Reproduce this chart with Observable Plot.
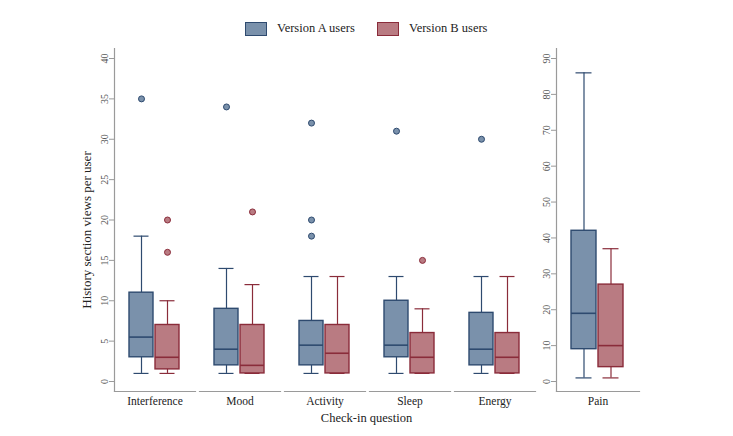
<!DOCTYPE html>
<html><head><meta charset="utf-8">
<script src="https://cdn.jsdelivr.net/npm/d3@7"></script>
<script src="https://cdn.jsdelivr.net/npm/@observablehq/plot@0.6"></script>
<style>
body{margin:0;background:#fff;}
#wrap{position:relative;width:733px;height:436px;font-family:"Liberation Serif","Times New Roman",serif;background:#fff;overflow:hidden}
#wrap svg{position:absolute;top:0;}
.leg{position:absolute;top:21px;display:flex;align-items:center;font-size:12.5px;color:#222}
.sw{width:20px;height:12px;margin-right:10px;}
#xtitle{position:absolute;top:411px;left:0;width:733px;text-align:center;font-size:12.5px;color:#222;}
</style></head><body><div id="wrap"></div>
<script>
// ---- data ----
const categories = ["Interference", "Mood", "Activity", "Sleep", "Energy"];
const versions = ["Version A users", "Version B users"];
const yTicksLeft = [0, 5, 10, 15, 20, 25, 30, 35, 40];
const yTicksRight = [0, 10, 20, 30, 40, 50, 60, 70, 80, 90];
const yTitle = ["History section views per user"];

const lowA  = [1, 1, 1, 1, 1];
const q1A   = [3, 2, 2, 3, 2];
const medA  = [5.5, 4, 4.5, 4.5, 4];
const q3A   = [11, 9, 7.5, 10, 8.5];
const highA = [18, 14, 13, 13, 13];
const outA  = [[35], [34], [18, 20, 32], [31], [30]];

const lowB  = [1, 1, 1, 1, 1];
const q1B   = [1.5, 1, 1, 1, 1];
const medB  = [3, 2, 3.5, 3, 3];
const q3B   = [7, 7, 7, 6, 6];
const highB = [10, 12, 13, 9, 13];
const outB  = [[16, 20], [21], [], [15], []];

const painCategory = ["Pain"];
const painA = {low: 1, q1: 9, med: 19, q3: 42, high: 86};
const painB = {low: 1, q1: 4, med: 10, q3: 27, high: 37};

// ---- styles ----
const fills = {"Version A users": "#7a91ab", "Version B users": "#b97b82"};
const strokes = {"Version A users": "#2e4a6f", "Version B users": "#8a2c3a"};
const axisColor = "#9a9a9a";
const serif = '"Liberation Serif","Times New Roman",serif';

// ---- build tables ----
const rows = [];
const outliers = [];
categories.forEach((c, i) => {
  rows.push({q: c, v: versions[0], low: lowA[i], q1: q1A[i], med: medA[i], q3: q3A[i], high: highA[i]});
  rows.push({q: c, v: versions[1], low: lowB[i], q1: q1B[i], med: medB[i], q3: q3B[i], high: highB[i]});
  outA[i].forEach(y => outliers.push({q: c, v: versions[0], y}));
  outB[i].forEach(y => outliers.push({q: c, v: versions[1], y}));
});
const painRows = [
  {q: painCategory[0], v: versions[0], ...painA},
  {q: painCategory[0], v: versions[1], ...painB}
];

function boxMarks(data, outs) {
  const marks = [];
  for (const v of versions) {
    const d = data.filter(r => r.v === v);
    const s = strokes[v];
    marks.push(Plot.ruleX(d, {fx: "q", x: "v", y1: "low", y2: "q1", stroke: s, strokeWidth: 1.2}));
    marks.push(Plot.ruleX(d, {fx: "q", x: "v", y1: "q3", y2: "high", stroke: s, strokeWidth: 1.2}));
    marks.push(Plot.tickY(d, {fx: "q", x: "v", y: "low", stroke: s, strokeWidth: 1.2, insetLeft: 4.5, insetRight: 4.5}));
    marks.push(Plot.tickY(d, {fx: "q", x: "v", y: "high", stroke: s, strokeWidth: 1.2, insetLeft: 4.5, insetRight: 4.5}));
    marks.push(Plot.barY(d, {fx: "q", x: "v", y1: "q1", y2: "q3", fill: fills[v], stroke: s, strokeWidth: 1.4}));
    marks.push(Plot.tickY(d, {fx: "q", x: "v", y: "med", stroke: s, strokeWidth: 1.6}));
    if (outs) {
      const o = outs.filter(r => r.v === v);
      marks.push(Plot.dot(o, {fx: "q", x: "v", y: "y", r: 3, fill: fills[v], stroke: s, strokeWidth: 1}));
    }
  }
  return marks;
}

const common = {
  marginTop: 48,
  marginBottom: 30,
  height: 421,
  style: {fontFamily: serif, background: "transparent", overflow: "visible"},
  x: {domain: versions, paddingInner: 0.073, paddingOuter: 0.54, axis: null},
};

const left = Plot.plot({
  ...common,
  width: 540,
  marginLeft: 113,
  marginRight: 3,
  fx: {domain: categories, paddingInner: 0.047, paddingOuter: 0, label: null},
  y: {domain: [0, 40], insetTop: 10, insetBottom: 10},
  marks: [
    Plot.frame({anchor: "bottom", stroke: axisColor, strokeWidth: 1.2}),
    Plot.frame({anchor: "left", fx: () => categories[0], stroke: axisColor, strokeWidth: 1.2}),
    Plot.axisY({ticks: yTicksLeft, tickSize: 5, tickRotate: -90, tickPadding: 2, fontSize: 10, color: "#555", stroke: axisColor, label: null}),
    Plot.text(yTitle, {fx: () => categories[0], text: d => d, frameAnchor: "left", textAnchor: "middle", lineAnchor: "middle",
      rotate: -90, dx: -28, dy: 10, fontSize: 13, fill: "#222"}),
    Plot.axisFx({anchor: "bottom", tickSize: 0, tickPadding: 5, fontSize: 11.5, color: "#222", label: null}),
    ...boxMarks(rows, outliers)
  ]
});

const right = Plot.plot({
  ...common,
  width: 175,
  marginLeft: 86,
  marginRight: 6,
  fx: {domain: painCategory, paddingInner: 0, paddingOuter: 0, label: null},
  y: {domain: [0, 90], insetTop: 10, insetBottom: 10},
  marks: [
    Plot.frame({anchor: "bottom", stroke: axisColor, strokeWidth: 1.2}),
    Plot.frame({anchor: "left", stroke: axisColor, strokeWidth: 1.2}),
    Plot.axisY({ticks: yTicksRight, tickSize: 5, tickRotate: -90, tickPadding: 2, fontSize: 10, color: "#555", stroke: axisColor, label: null}),
    Plot.axisFx({anchor: "bottom", tickSize: 0, tickPadding: 5, fontSize: 11.5, color: "#222", label: null}),
    ...boxMarks(painRows, null)
  ]
});

const wrap = document.getElementById("wrap");
left.style.left = "0px";
right.style.left = "470px";
wrap.appendChild(left);
wrap.appendChild(right);

// legend
const legPos = [245, 377];
versions.forEach((v, i) => {
  const d = document.createElement("div");
  d.className = "leg";
  d.style.left = legPos[i] + "px";
  d.innerHTML = `<div class="sw" style="background:${fills[v]};border:1.5px solid ${strokes[v]}"></div><span>${v}</span>`;
  wrap.appendChild(d);
});
const xt = document.createElement("div");
xt.id = "xtitle";
xt.textContent = "Check-in question";
wrap.appendChild(xt);
</script></body></html>
